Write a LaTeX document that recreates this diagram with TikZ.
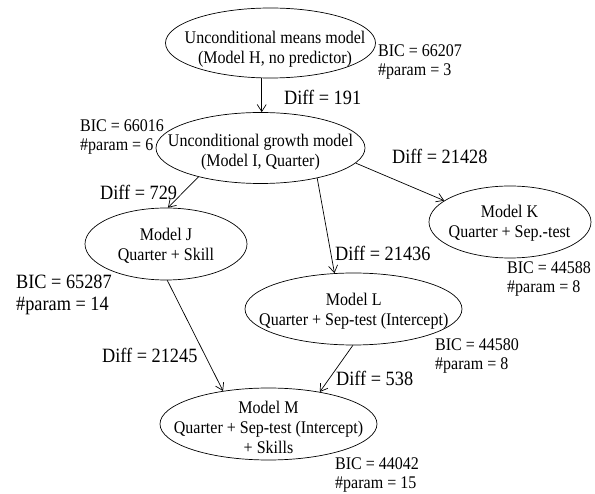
\documentclass[tikz,border=0pt]{standalone}
\usepackage{fontspec}
\setmainfont{Liberation Serif}[FakeStretch=0.9]
\usetikzlibrary{shapes.geometric,arrows.meta}
\begin{document}
\begin{tikzpicture}[x=1pt,y=-1pt,
  model/.style={draw, ellipse, inner sep=0pt, line width=0.7pt},
  txt/.style={inner sep=0pt, align=center, font=\fontsize{17.8}{20}\selectfont},
  info/.style={inner sep=0pt, align=left, anchor=west, font=\fontsize{17.8}{19}\selectfont},
  big/.style={inner sep=0pt, align=left, anchor=west, font=\fontsize{20.3}{22}\selectfont},
  conn/.style={line width=0.7pt, -{Straight Barb[length=7pt,width=9pt]}}]
\useasboundingbox (0,0) rectangle (595,494);
% ellipses
\node[model, minimum width=210pt, minimum height=70pt] (h) at (270.5,43) {};
\node[model, minimum width=209pt, minimum height=71pt] (i) at (260.5,148) {};
\node[model, minimum width=162pt, minimum height=72pt] (j) at (166,244) {};
\node[model, minimum width=162pt, minimum height=72pt] (k) at (510,222) {};
\node[model, minimum width=217pt, minimum height=72pt] (l) at (353.5,309) {};
\node[model, minimum width=217pt, minimum height=72pt] (m) at (268.5,424) {};
% texts inside
\node[txt] (ht) at (275,49) {Unconditional means model\\(Model H, no predictor)};
\node[txt] (it) at (260.5,152) {Unconditional growth model\\(Model I, Quarter)};
\node[txt] (jt) at (166,246) {Model J\\Quarter + Skill};
\node[txt] (kt) at (509.5,223.5) {Model K\\Quarter + Sep.-test};
\node[txt] (lt) at (353.8,311) {Model L\\Quarter + Sep-test (Intercept)};
\node[txt] (mt) at (268.5,427) {Model M\\Quarter + Sep-test (Intercept)\\+ Skills};
% BIC labels
\node[info] (hb) at (378,62) {BIC = 66207\\\#param = 3};
\node[info] (ib) at (80,137) {BIC = 66016\\\#param = 6};
\node[big]  (jb) at (16,295) {BIC = 65287\\\#param = 14};
\node[info] (kb) at (507,279) {BIC = 44588\\\#param = 8};
\node[info] (lb) at (435,356) {BIC = 44580\\\#param = 8};
\node[info] (mb) at (335,475) {BIC = 44042\\\#param = 15};
% diff labels
\node[big] (d1) at (284,97) {Diff = 191};
\node[big] (d2) at (392,156) {Diff = 21428};
\node[big] (d3) at (100,192) {Diff = 729};
\node[big] (d4) at (335,253) {Diff = 21436};
\node[big] (d5) at (102,355) {Diff = 21245};
\node[big] (d6) at (336,378) {Diff = 538};
% connectors
\draw[conn] (h.-104) -- (h.-104 |- i.north);
\draw[conn] (i.205) -- (j.87);
\draw[conn] (i.-9) -- (k.162);
\draw[conn] (i.-28) -- (l.118);
\draw[conn] (j.-88) -- (m.144);
\draw[conn] (l.-91) -- (m.32);
\end{tikzpicture}
\end{document}
